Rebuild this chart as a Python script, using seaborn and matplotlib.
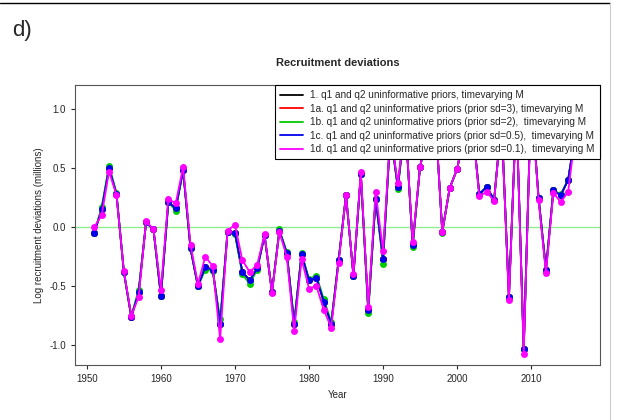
import numpy as np
import pandas as pd
import matplotlib
matplotlib.use("Agg")
import matplotlib.pyplot as plt
import seaborn as sns

years = list(range(1951, 2017))

dev_base = [-0.05, 0.15, 0.50, 0.28, -0.38, -0.76, -0.55, 0.04, -0.02, -0.58,
            0.21, 0.16, 0.48, -0.18, -0.50, -0.34, -0.36, -0.82, -0.04, -0.05,
            -0.38, -0.45, -0.35, -0.07, -0.55, -0.03, -0.22, -0.82, -0.23, -0.45,
            -0.43, -0.63, -0.82, -0.28, 0.27, -0.41, 0.45, -0.70, 0.24, -0.27,
            0.80, 0.34, 0.90, -0.15, 0.51, 0.80, 1.00, -0.04, 0.33, 0.49,
            0.80, 0.90, 0.28, 0.34, 0.23, 0.90, -0.59, 1.00, -1.03, 1.10,
            0.25, -0.36, 0.31, 0.27, 0.40, 0.80]
dev_green = [-0.05, 0.17, 0.52, 0.29, -0.38, -0.75, -0.53, 0.04, -0.02, -0.58,
             0.21, 0.14, 0.49, -0.18, -0.50, -0.36, -0.37, -0.78, -0.04, -0.06,
             -0.40, -0.48, -0.36, -0.07, -0.55, -0.02, -0.21, -0.80, -0.22, -0.44,
             -0.41, -0.61, -0.80, -0.28, 0.27, -0.41, 0.45, -0.73, 0.24, -0.31,
             0.80, 0.32, 0.90, -0.17, 0.51, 0.80, 1.00, -0.05, 0.33, 0.49,
             0.80, 0.90, 0.28, 0.34, 0.23, 0.90, -0.59, 1.00, -1.03, 1.10,
             0.25, -0.36, 0.31, 0.28, 0.40, 0.80]
dev_pink = [0.00, 0.10, 0.47, 0.27, -0.37, -0.75, -0.59, 0.05, -0.02, -0.53,
            0.24, 0.20, 0.51, -0.15, -0.48, -0.25, -0.33, -0.95, -0.03, 0.02,
            -0.28, -0.38, -0.32, -0.06, -0.56, -0.04, -0.25, -0.88, -0.27, -0.52,
            -0.50, -0.70, -0.85, -0.30, 0.27, -0.40, 0.47, -0.68, 0.30, -0.20,
            0.80, 0.37, 0.90, -0.13, 0.51, 0.80, 1.00, -0.04, 0.33, 0.49,
            0.80, 0.90, 0.26, 0.30, 0.22, 0.90, -0.62, 1.00, -1.07, 1.10,
            0.23, -0.39, 0.29, 0.21, 0.30, 0.80]

labels = ["1. q1 and q2 uninformative priors, timevarying M",
          "1a. q1 and q2 uninformative priors (prior sd=3), timevarying M",
          "1b. q1 and q2 uninformative priors (prior sd=2),  timevarying M",
          "1c. q1 and q2 uninformative priors (prior sd=0.5),  timevarying M",
          "1d. q1 and q2 uninformative priors (prior sd=0.1),  timevarying M"]
series = [dev_base, dev_base, dev_green, dev_base, dev_pink]
colors = ["black", "red", "#00cc00", "#0000ee", "#ff00ff"]

df = pd.concat([pd.DataFrame({"Year": years, "Dev": s, "Run": l})
                for s, l in zip(series, labels)])

sns.set_style("white")
plt.rcParams["font.family"] = ["Liberation Sans", "DejaVu Sans"]

fig = plt.figure(figsize=(6.25, 4.2), dpi=100)
ax = fig.add_axes([0.12, 0.13, 0.84, 0.667])

ax.axhline(0, color="#90ee90", lw=1, zorder=1)
sns.lineplot(data=df, x="Year", y="Dev", hue="Run", palette=colors,
             marker="o", markersize=5, markeredgewidth=0, lw=1.3,
             ax=ax, legend=True, zorder=2)

ax.set_xlim(1948.4, 2019.3)
ax.set_ylim(-1.17, 1.2)
ax.set_xticks([1950, 1960, 1970, 1980, 1990, 2000, 2010])
ax.set_yticks([-1.0, -0.5, 0.0, 0.5, 1.0])
ax.set_yticklabels(["-1.0", "-0.5", "0.0", "0.5", "1.0"])
ax.tick_params(labelsize=7, length=3, direction="out", left=True, bottom=True)
ax.set_xlabel("Year", fontsize=7)
ax.set_ylabel("Log recruitment deviations (millions)", fontsize=7)
ax.set_title("Recruitment deviations", fontsize=8, fontweight="bold", pad=14)
for sp in ax.spines.values():
    sp.set_color("#555555")
    sp.set_linewidth(0.8)

leg = ax.legend(loc="upper right", fontsize=7.2, frameon=True, fancybox=False,
                borderaxespad=0, handlelength=2.3, labelspacing=0.35,
                borderpad=0.5, framealpha=1)
leg.set_zorder(10)
leg.get_frame().set_edgecolor("black")
leg.get_frame().set_linewidth(0.8)
for h in leg.get_lines():
    h.set_marker("")

fig.text(0.02, 0.915, "d)", fontsize=16)
fig.add_artist(plt.Line2D([0, 0.976], [0.993, 0.993], color="black", lw=1))
fig.add_artist(plt.Line2D([0.976, 0.976], [0, 0.993], color="#cccccc", lw=0.8))

fig.savefig("out.png", dpi=100)
